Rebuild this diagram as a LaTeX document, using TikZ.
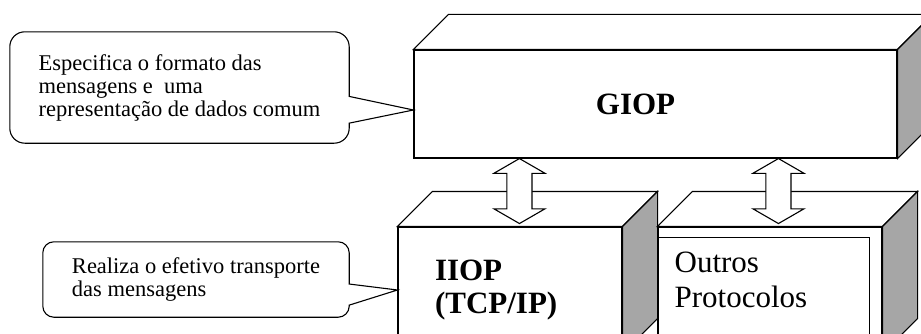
\documentclass[tikz,border=0pt]{standalone}
\usepackage{fontspec}
\setmainfont{Liberation Serif}
\usetikzlibrary{shapes.arrows,calc}
\tikzset{
  face/.style={draw=black, line width=1.1pt, fill=white, inner sep=0pt},
  sideface/.style={draw=black, line width=1.1pt, fill=black!35},
  noteline/.style={draw=black, line width=1.1pt},
  notebox/.style={inner sep=0pt, align=left, font=\fontsize{22.5}{23}\selectfont},
  layertext/.style={font=\fontsize{31}{35}\selectfont},
  layerbold/.style={font=\fontsize{31}{33}\selectfont\bfseries},
  updown/.style={double arrow, draw=black, line width=1.1pt, fill=white, rotate=90, minimum height=65pt, inner xsep=0pt, inner ysep=12pt, double arrow head extend=13pt, double arrow tip angle=120}
}

\begin{document}
\begin{tikzpicture}[x=1pt, y=1pt]
  \useasboundingbox (0,0) rectangle (921,333);
  \clip (0,0) rectangle (921,333);
  % camadas (faces da frente)
  \node[face, layerbold, minimum width=483pt, minimum height=108pt] (giop) at (655.5,229) {\hspace*{-40pt}GIOP};
  \node[face, layerbold, minimum width=224pt, minimum height=126pt, text width=150pt, inner xsep=37pt, align=left] (iiop) at (510,43) {IIOP\\(TCP/IP)};
  \node[face, minimum width=224pt, minimum height=126pt] (outros) at (770,43) {};
  % topo e lado de cada bloco
  \foreach \b in {giop,iiop,outros} {
    \draw[face] (\b.north west) -- ++(35,35) -- ($(\b.north east)+(35,35)$) -- (\b.north east) -- cycle;
    \draw[sideface] (\b.north east) -- ++(35,35) -- ($(\b.south east)+(35,35)$) -- (\b.south east) -- cycle;
  }
  \node[layertext, inner xsep=17pt, text width=178pt, minimum height=84pt, align=left, anchor=north west] (outtext) at ([yshift=-11pt]outros.north west) {Outros\\Protocolos};
  \draw[noteline] (outtext.north west) -- (outtext.north east) -- (outtext.east |- outros.south);
  % setas entre camadas
  \node[updown] (link1) at ($(giop.south west)+(106,-32.5)$) {};
  \node[updown] (link2) at ($(giop.south west)+(365,-32.5)$) {};
  % baloes
  \node[notebox, minimum width=339pt, minimum height=111pt] (spec) at (179.5,245.5) {Especifica o formato das\\mensagens e\ \ uma\\representação de dados comum};
  \draw[noteline] ($(spec.north east)!.58!(spec.south east)$) -- ([yshift=-6pt]giop.west) -- ($(spec.north east)!.82!(spec.south east)$)
    [rounded corners=15pt] -- (spec.south east) -- (spec.south west) -- (spec.north west) -- (spec.north east) [sharp corners] -- cycle;
  \node[notebox, minimum width=306pt, minimum height=75pt] (trans) at (196,53.5) {Realiza o efetivo transporte\\das mensagens};
  \draw[noteline] ($(trans.north east)!.56!(trans.south east)$) -- (iiop.west) -- ($(trans.north east)!.84!(trans.south east)$)
    [rounded corners=11pt] -- (trans.south east) -- (trans.south west) -- (trans.north west) -- (trans.north east) [sharp corners] -- cycle;
\end{tikzpicture}
\end{document}
